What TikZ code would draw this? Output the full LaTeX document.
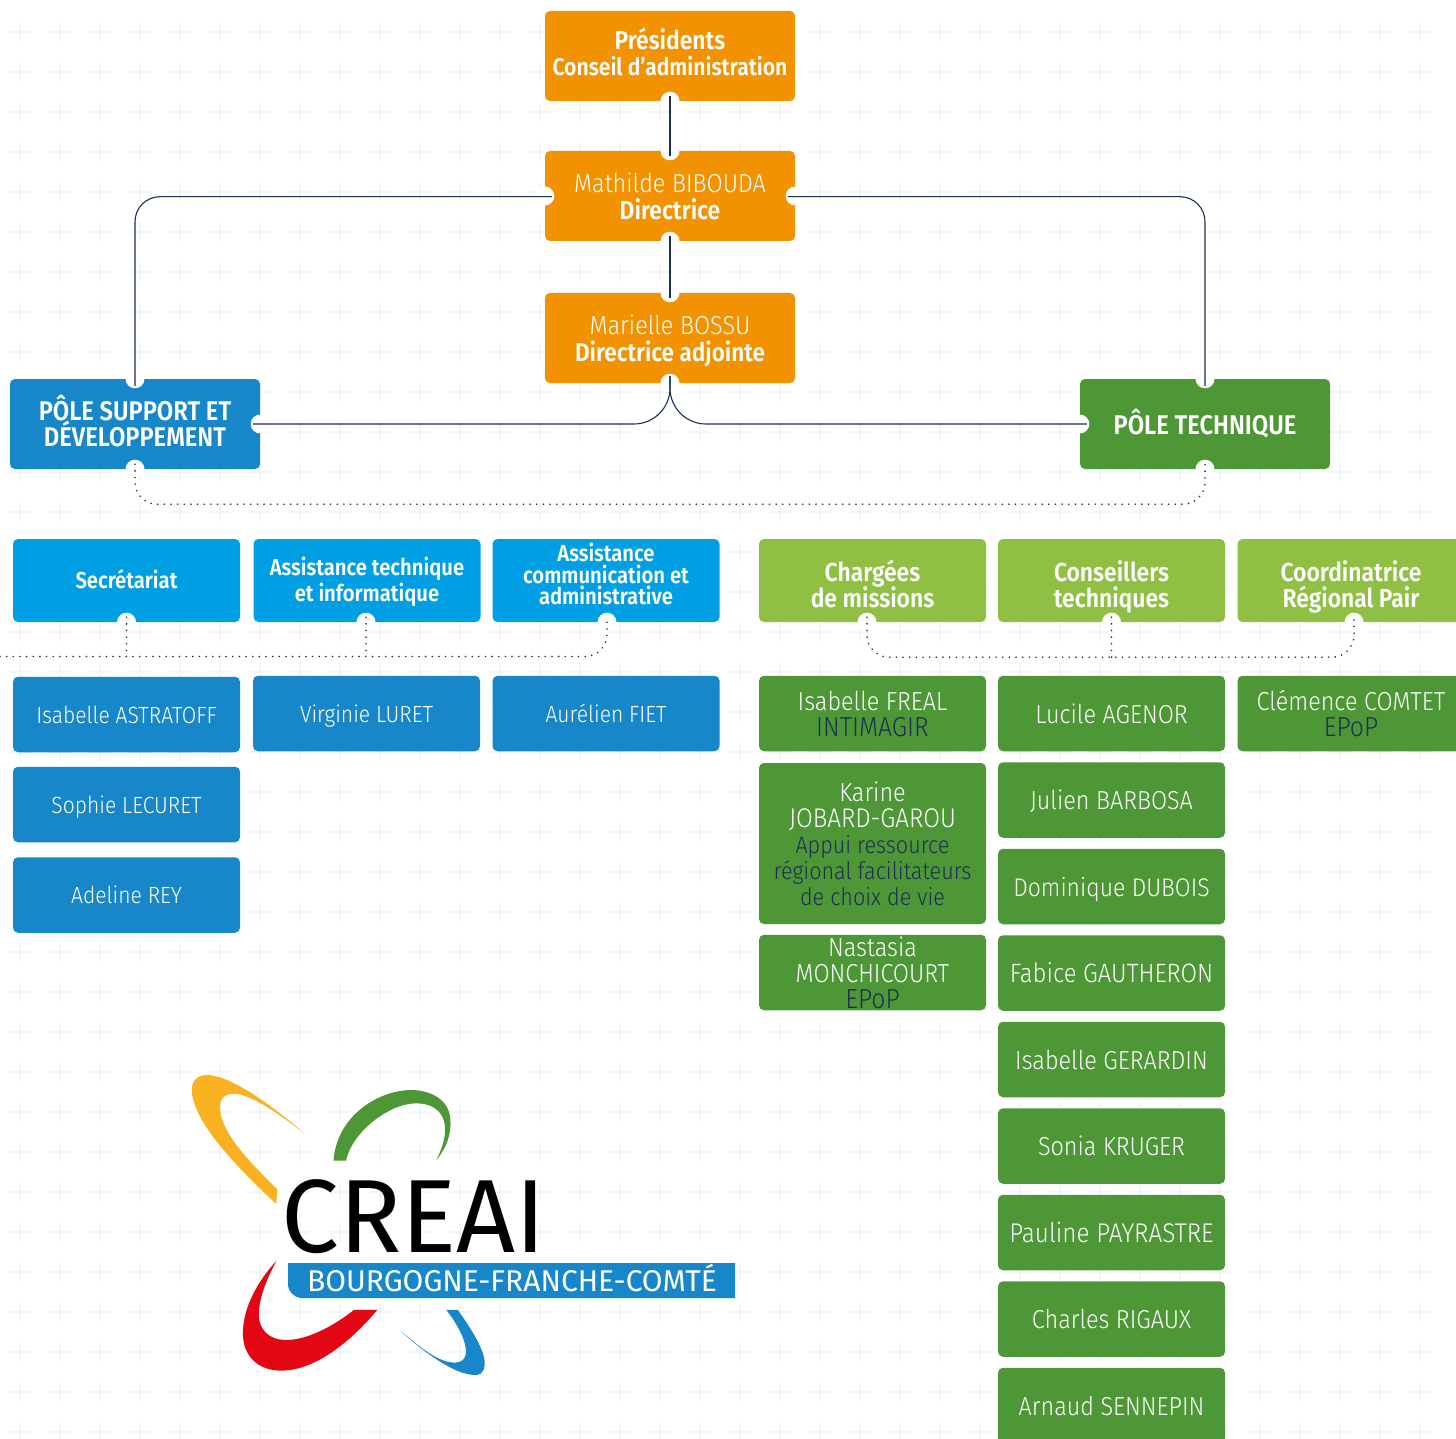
\documentclass[tikz,border=0pt]{standalone}
\usepackage{fontspec}
\setmainfont{Fira Sans Light}[FakeStretch=0.9,BoldFont={Fira Sans SemiBold},BoldFeatures={FakeStretch=0.88}]
\newfontfamily\logofont{Fira Sans}
\usetikzlibrary{calc}
\definecolor{cOrange}{HTML}{F39200}
\definecolor{cBlue}{HTML}{1787C9}
\definecolor{cSky}{HTML}{009FE3}
\definecolor{cLime}{HTML}{8FC043}
\definecolor{cGreen}{HTML}{4E9736}
\definecolor{cNavy}{HTML}{1D2F55}
\definecolor{cGrid}{HTML}{F0F5FA}
\definecolor{cYellow}{HTML}{F9B122}
\definecolor{cRed}{HTML}{E30613}
\newcommand{\dk}[1]{\textcolor{cNavy}{#1}}
\newcommand{\fs}[1]{\fontsize{#1}{26}\selectfont}
\newcommand{\topup}{\rule{0pt}{28pt}}
\newcommand{\lsk}{\lineskiplimit=-10pt\relax}
\tikzset{
 card/.style={rectangle,rounded corners=5,text=white,align=center,inner sep=0,text depth=0pt,
   font=\lsk\fontsize{26}{26}\selectfont},
 big/.style={card,minimum width=250,minimum height=90,font=\lsk\fontsize{26}{26.5}\selectfont},
 head/.style={card,minimum width=227,minimum height=83,font=\lsk\fontsize{26}{26}\selectfont\bfseries},
 item/.style={card,minimum width=227,minimum height=75.5},
 orangebox/.style={big,fill=cOrange},
 bluebox/.style={item,fill=cBlue,font=\fontsize{23.4}{26}\selectfont},
 greenbox/.style={item,fill=cGreen},
 skybox/.style={head,fill=cSky,font=\lsk\fontsize{23}{26}\selectfont\bfseries},
 limebox/.style={head,fill=cLime},
 conn/.style={draw=cNavy,line width=1.1},
 dots/.style={draw=cNavy,line width=1.8,line cap=round,dash pattern=on 0pt off 6.65pt},
 plus/.style={draw=cGrid,line width=1.1}
}
\begin{document}
\begin{tikzpicture}[x=1pt,y=-1pt]
\useasboundingbox (0,0) rectangle (1456,1439);
\clip (0,0) rectangle (1456,1439);
% background grid
\foreach \gx in {20,60,...,1420}
  \foreach \gy in {32,72,...,1432}
    \draw[plus] (\gx-9,\gy) -- (\gx+9,\gy) (\gx,\gy-9) -- (\gx,\gy+9);
% top level
\node[orangebox,font=\lsk\fontsize{24}{26.5}\selectfont,text depth=8pt] (pres) at (670,56) {\fs{26}\bfseries Présidents\\\fs{24}\bfseries Conseil d’administration};
\node[orangebox] (dir) at (670,196) {Mathilde BIBOUDA\\\fs{26}\bfseries Directrice};
\node[orangebox] (adj) at (670,338) {Marielle BOSSU\\\fs{25.6}\bfseries Directrice adjointe};
\node[big,fill=cBlue,font=\lsk\fontsize{27}{26}\selectfont\bfseries,text depth=6pt] (sup) at (135,424) {PÔLE SUPPORT ET\\DÉVELOPPEMENT};
\node[big,fill=cGreen,font=\fontsize{27}{26}\selectfont\bfseries,text depth=5pt] (tech) at (1205,424) {PÔLE TECHNIQUE};
% heads
\node[skybox,text depth=3pt] (sec) at (126.5,580.5) {Secrétariat};
\node[skybox,text depth=2pt] (ati) at (367,580.5) {Assistance technique\\et informatique};
\node[skybox,font=\lsk\fontsize{23}{21.5}\selectfont\bfseries,text depth=13pt] (com) at (606,580.5) {Assistance\\communication et\\administrative};
\node[limebox] (mis) at (872.5,580.5) {\topup Chargées\\de missions};
\node[limebox] (con) at (1111.5,580.5) {\topup Conseillers\\techniques};
\node[limebox] (coo) at (1351,580.5) {\topup Coordinatrice\\Régional Pair};
% support staff
\node[bluebox] (astr) at (126.5,714.5) {Isabelle ASTRATOFF};
\node[bluebox] (lecu) at (126.5,804.5) {Sophie LECURET};
\node[bluebox] (rey) at (126.5,895) {Adeline REY};
\node[bluebox] (luret) at (366.5,713.5) {Virginie LURET};
\node[bluebox] (fiet) at (606,713.5) {Aurélien FIET};
% missions
\node[greenbox] (frea) at (872.5,713.5) {Isabelle FREAL\\\fs{27.5}\dk{INTIMAGIR}};
\node[greenbox,minimum height=161] (joba) at (872.5,843.5) {Karine\\\fs{27}JOBARD-GAROU\\\fs{24}\dk{Appui ressource}\\\fs{24}\dk{régional facilitateurs}\\\fs{24}\dk{de choix de vie}};
\node[greenbox] (monc) at (872.5,972.5) {Nastasia\\MONCHICOURT\\\fs{27.5}\dk{EPoP}};
% technical advisers
\node[greenbox] (agen) at (1111.5,713.5) {Lucile AGENOR};
\node[greenbox] (barb) at (1111.5,800) {Julien BARBOSA};
\node[greenbox] (dubo) at (1111.5,886.5) {\fs{25.5}Dominique DUBOIS};
\node[greenbox] (gaut) at (1111.5,973) {\fs{26.5}Fabice GAUTHERON};
\node[greenbox] (gera) at (1111.5,1059.5) {Isabelle GERARDIN};
\node[greenbox] (krug) at (1111.5,1146) {Sonia KRUGER};
\node[greenbox] (payr) at (1111.5,1232.5) {\fs{27}Pauline PAYRASTRE};
\node[greenbox] (riga) at (1111.5,1319) {Charles RIGAUX};
\node[greenbox] (senn) at (1111.5,1405.5) {Arnaud SENNEPIN};
\node[greenbox] (comt) at (1351,713.5) {Clémence COMTET\\\fs{27.5}\dk{EPoP}};
% notches
\foreach \n in {pres.south,dir.north,dir.south,dir.west,dir.east,adj.north,adj.south,
  sup.north,sup.east,sup.south,tech.north,tech.west,tech.south}
  \fill[white] (\n) circle (9.5);
\coordinate (secn) at (sec.south);
\coordinate (atin) at ($(ati.south)+(-1,0)$);
\coordinate (comn) at ($(com.south)+(1,0)$);
\coordinate (misn) at ($(mis.south)+(-5.5,0)$);
\coordinate (conn1) at (con.south);
\coordinate (coon) at ($(coo.south)+(3,0)$);
\foreach \n in {secn,atin,comn,misn,conn1,coon}
  \fill[white] (\n) circle (9.5);
% solid connectors
\draw[conn] ($(pres.south)+(0,-5)$) -- ($(dir.north)+(0,5)$);
\draw[conn] ($(dir.south)+(0,-5)$) -- ($(adj.north)+(0,5)$);
\draw[conn,rounded corners=25] ($(dir.west)+(7,0.7)$) -| ($(sup.north)+(0,7)$);
\draw[conn,rounded corners=25] ($(dir.east)+(-7,0.7)$) -| ($(tech.north)+(0,7)$);
\draw[conn,rounded corners=36] ($(adj.south)+(0,-7)$) |- ($(sup.east)+(-7,0)$);
\draw[conn,rounded corners=36] ($(adj.south)+(0,-7)$) |- ($(tech.west)+(7,0)$);
% dotted connectors
\draw[dots,rounded corners=22] ($(sup.south)+(0,-5)$) |- ($(tech.south)+(0,35)$) -- ($(tech.south)+(0,-5)$);
\coordinate (left) at (0,656.5);
\draw[dots,rounded corners=22] (left) -| ($(comn)+(0,-5)$);
\draw[dots] ($(secn)+(0,-5)$) -- (secn |- left);
\draw[dots] ($(atin)+(0,-5)$) -- (atin |- left);
\draw[dots,rounded corners=22] ($(misn)+(0,-5)$) |- ($(coon)+(0,35)$) -- ($(coon)+(0,-5)$);
\draw[dots] ($(conn1)+(0,-5)$) -- ($(conn1)+(0,35)$);
% logo
\begin{scope}[shift={(170,1060)},xscale=0.37,yscale=0.3333]
\fill[cYellow] (365,222) .. controls (270,130) and (160,45) .. (100,45) .. controls (65,45) and (55,75) .. (60,105) .. controls (75,200) and (180,320) .. (287,432) -- (290,388) .. controls (200,290) and (135,210) .. (135,140) .. controls (135,105) and (160,95) .. (195,105) .. controls (250,125) and (310,175) .. (365,222) -- cycle;
\fill[cGreen] (442,302) -- (476,302) .. controls (490,220) and (590,130) .. (665,130) .. controls (735,130) and (770,190) .. (720,300) .. controls (750,260) and (760,220) .. (758,180) .. controls (755,115) and (700,90) .. (650,90) .. controls (560,92) and (450,170) .. (442,302) -- cycle;
\fill[cRed] (288,602) .. controls (240,660) and (197,740) .. (197,820) .. controls (197,890) and (240,932) .. (300,932) .. controls (400,932) and (500,830) .. (560,750) -- (497,750) .. controls (440,800) and (370,840) .. (315,840) .. controls (260,840) and (240,800) .. (240,765) .. controls (240,710) and (265,650) .. (288,602) -- cycle;
\fill[cBlue] (622,812) .. controls (690,880) and (770,945) .. (825,945) .. controls (850,945) and (852,920) .. (850,900) .. controls (845,860) and (810,800) .. (778,750) -- (747,750) .. controls (775,790) and (800,840) .. (800,875) .. controls (800,900) and (785,908) .. (770,908) .. controls (720,908) and (665,850) .. (622,812) -- cycle;
\end{scope}
\fill[cBlue] (288,1263) -- (735,1263) -- (735,1298) -- (302,1298) arc[start angle=90,end angle=180,radius=14] -- cycle;
\node[text=black,inner sep=0,font=\logofont\fontsize{104}{104}\selectfont,xscale=0.99,text height=72pt,text depth=0pt] (creai) at (414,1216) {CREAI};
\node[text=white,inner sep=0,font=\logofont\fontsize{30}{30}\selectfont,xscale=1.0,text height=21pt,text depth=0pt] (bfc) at (512,1281) {BOURGOGNE-FRANCHE-COMTÉ};
\end{tikzpicture}
\end{document}
